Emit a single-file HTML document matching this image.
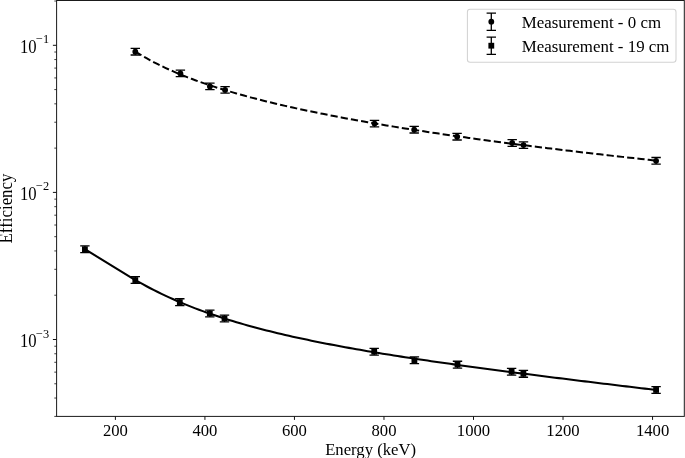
<!DOCTYPE html>
<html><head><meta charset="utf-8"><title>Efficiency</title>
<style>
html,body{margin:0;padding:0;background:#fff;}
svg{display:block;will-change:transform;}
text{font-family:"Liberation Serif",serif;font-size:16.67px;fill:#000;}
</style></head><body>
<svg width="685" height="458" viewBox="0 0 685 458">
<rect width="685" height="458" fill="#fff"/>

<rect x="56.6" y="0.5" width="627.70" height="415.90" fill="none" stroke="#1a1a1a" stroke-width="1.0"/>
<text transform="translate(115.40,435.50) scale(1.0,1.04)" text-anchor="middle">200</text>
<text transform="translate(204.93,435.50) scale(1.0,1.04)" text-anchor="middle">400</text>
<text transform="translate(294.45,435.50) scale(1.0,1.04)" text-anchor="middle">600</text>
<text transform="translate(383.98,435.50) scale(1.0,1.04)" text-anchor="middle">800</text>
<text transform="translate(473.50,435.50) scale(1.0,1.04)" text-anchor="middle">1000</text>
<text transform="translate(563.03,435.50) scale(1.0,1.04)" text-anchor="middle">1200</text>
<text transform="translate(652.56,435.50) scale(1.0,1.04)" text-anchor="middle">1400</text>
<text transform="translate(20.00,53.10) scale(1.0,1.08)" text-anchor="start">10</text>
<text transform="translate(36.00,43.30) scale(1.06,1.06)" text-anchor="start" style="font-size:11.67px">−1</text>
<text transform="translate(20.00,200.20) scale(1.0,1.08)" text-anchor="start">10</text>
<text transform="translate(36.00,190.40) scale(1.06,1.06)" text-anchor="start" style="font-size:11.67px">−2</text>
<text transform="translate(20.00,347.30) scale(1.0,1.08)" text-anchor="start">10</text>
<text transform="translate(36.00,337.50) scale(1.06,1.06)" text-anchor="start" style="font-size:11.67px">−3</text>
<path d="M115.40,416.4 v3.5 M204.93,416.4 v3.5 M294.45,416.4 v3.5 M383.98,416.4 v3.5 M473.50,416.4 v3.5 M563.03,416.4 v3.5 M652.56,416.4 v3.5 M56.6,45.30 h-3.7 M56.6,192.40 h-3.7 M56.6,339.50 h-3.7" stroke="#111" stroke-width="1.0" fill="none"/>
<path d="M56.6,1.02 h-2.3 M56.6,148.12 h-2.3 M56.6,122.22 h-2.3 M56.6,103.84 h-2.3 M56.6,89.58 h-2.3 M56.6,77.93 h-2.3 M56.6,68.09 h-2.3 M56.6,59.56 h-2.3 M56.6,52.03 h-2.3 M56.6,295.22 h-2.3 M56.6,269.32 h-2.3 M56.6,250.94 h-2.3 M56.6,236.68 h-2.3 M56.6,225.03 h-2.3 M56.6,215.19 h-2.3 M56.6,206.66 h-2.3 M56.6,199.13 h-2.3 M56.6,416.42 h-2.3 M56.6,398.04 h-2.3 M56.6,383.78 h-2.3 M56.6,372.13 h-2.3 M56.6,362.29 h-2.3 M56.6,353.76 h-2.3 M56.6,346.23 h-2.3" stroke="#111" stroke-width="0.8" fill="none"/>
<text transform="translate(370.60,454.60) scale(1.0,1.04)" text-anchor="middle">Energy (keV)</text>
<text transform="translate(12.00,208.50) rotate(-90) scale(1.012,1.1)" text-anchor="middle">Efficiency</text>
<path d="M135.30,51.48 L139.05,53.82 L142.79,56.07 L146.54,58.22 L150.29,60.29 L154.03,62.27 L157.78,64.19 L161.53,66.03 L165.27,67.81 L169.02,69.53 L172.77,71.20 L176.51,72.81 L180.26,74.38 L184.01,75.89 L187.75,77.37 L191.50,78.80 L195.25,80.20 L198.99,81.55 L202.74,82.88 L206.49,84.17 L210.24,85.43 L213.98,86.66 L217.73,87.86 L221.48,89.03 L225.22,90.18 L228.97,91.31 L232.72,92.41 L236.46,93.49 L240.21,94.55 L243.96,95.58 L247.70,96.60 L251.45,97.60 L255.20,98.58 L258.94,99.55 L262.69,100.50 L266.44,101.43 L270.18,102.34 L273.93,103.25 L277.68,104.13 L281.42,105.01 L285.17,105.87 L288.92,106.72 L292.66,107.55 L296.41,108.38 L300.16,109.19 L303.90,109.99 L307.65,110.78 L311.40,111.56 L315.14,112.33 L318.89,113.09 L322.64,113.84 L326.38,114.58 L330.13,115.32 L333.88,116.04 L337.63,116.76 L341.37,117.46 L345.12,118.16 L348.87,118.85 L352.61,119.54 L356.36,120.22 L360.11,120.88 L363.85,121.55 L367.60,122.20 L371.35,122.85 L375.09,123.50 L378.84,124.13 L382.59,124.77 L386.33,125.39 L390.08,126.01 L393.83,126.62 L397.57,127.23 L401.32,127.83 L405.07,128.43 L408.81,129.02 L412.56,129.61 L416.31,130.19 L420.05,130.77 L423.80,131.34 L427.55,131.91 L431.29,132.48 L435.04,133.04 L438.79,133.59 L442.53,134.14 L446.28,134.69 L450.03,135.23 L453.77,135.77 L457.52,136.30 L461.27,136.84 L465.02,137.36 L468.76,137.89 L472.51,138.41 L476.26,138.92 L480.00,139.44 L483.75,139.95 L487.50,140.45 L491.24,140.96 L494.99,141.46 L498.74,141.95 L502.48,142.45 L506.23,142.94 L509.98,143.42 L513.72,143.91 L517.47,144.39 L521.22,144.87 L524.96,145.35 L528.71,145.82 L532.46,146.29 L536.20,146.76 L539.95,147.22 L543.70,147.69 L547.44,148.15 L551.19,148.60 L554.94,149.06 L558.68,149.51 L562.43,149.96 L566.18,150.41 L569.92,150.86 L573.67,151.30 L577.42,151.74 L581.16,152.18 L584.91,152.62 L588.66,153.05 L592.41,153.49 L596.15,153.92 L599.90,154.35 L603.65,154.77 L607.39,155.20 L611.14,155.62 L614.89,156.04 L618.63,156.46 L622.38,156.88 L626.13,157.29 L629.87,157.70 L633.62,158.11 L637.37,158.52 L641.11,158.93 L644.86,159.34 L648.61,159.74 L652.35,160.15 L656.10,160.55" fill="none" stroke="#000" stroke-width="2.0" stroke-dasharray="7.2 3.13" stroke-dashoffset="0"/>
<path d="M84.90,249.20 L135.30,280.02 L139.05,282.14 L142.79,284.22 L146.54,286.24 L150.29,288.22 L154.03,290.14 L157.78,292.02 L161.53,293.85 L165.27,295.63 L169.02,297.36 L172.77,299.05 L176.51,300.70 L180.26,302.31 L184.01,303.87 L187.75,305.40 L191.50,306.89 L195.25,308.34 L198.99,309.75 L202.74,311.14 L206.49,312.48 L210.24,313.80 L213.98,315.09 L217.73,316.34 L221.48,317.57 L225.22,318.77 L228.97,319.94 L232.72,321.09 L236.46,322.21 L240.21,323.31 L243.96,324.39 L247.70,325.44 L251.45,326.47 L255.20,327.49 L258.94,328.48 L262.69,329.45 L266.44,330.41 L270.18,331.34 L273.93,332.26 L277.68,333.17 L281.42,334.06 L285.17,334.93 L288.92,335.79 L292.66,336.63 L296.41,337.46 L300.16,338.28 L303.90,339.08 L307.65,339.87 L311.40,340.65 L315.14,341.42 L318.89,342.17 L322.64,342.92 L326.38,343.65 L330.13,344.38 L333.88,345.09 L337.63,345.80 L341.37,346.50 L345.12,347.19 L348.87,347.87 L352.61,348.54 L356.36,349.20 L360.11,349.86 L363.85,350.50 L367.60,351.15 L371.35,351.78 L375.09,352.41 L378.84,353.03 L382.59,353.64 L386.33,354.25 L390.08,354.85 L393.83,355.45 L397.57,356.04 L401.32,356.63 L405.07,357.21 L408.81,357.79 L412.56,358.36 L416.31,358.92 L420.05,359.49 L423.80,360.04 L427.55,360.60 L431.29,361.15 L435.04,361.69 L438.79,362.23 L442.53,362.77 L446.28,363.30 L450.03,363.84 L453.77,364.36 L457.52,364.89 L461.27,365.41 L465.02,365.93 L468.76,366.44 L472.51,366.95 L476.26,367.46 L480.00,367.97 L483.75,368.47 L487.50,368.97 L491.24,369.47 L494.99,369.97 L498.74,370.47 L502.48,370.96 L506.23,371.45 L509.98,371.94 L513.72,372.42 L517.47,372.91 L521.22,373.39 L524.96,373.87 L528.71,374.35 L532.46,374.83 L536.20,375.30 L539.95,375.78 L543.70,376.25 L547.44,376.72 L551.19,377.19 L554.94,377.66 L558.68,378.13 L562.43,378.59 L566.18,379.06 L569.92,379.52 L573.67,379.98 L577.42,380.44 L581.16,380.90 L584.91,381.36 L588.66,381.82 L592.41,382.28 L596.15,382.74 L599.90,383.19 L603.65,383.65 L607.39,384.10 L611.14,384.55 L614.89,385.01 L618.63,385.46 L622.38,385.91 L626.13,386.36 L629.87,386.81 L633.62,387.26 L637.37,387.71 L641.11,388.16 L644.86,388.61 L648.61,389.05 L652.35,389.50 L656.10,389.95" fill="none" stroke="#000" stroke-width="2.05" stroke-linejoin="round"/>
<path d="M135.30,48.40 V55.00 M130.60,48.40 h9.4 M130.60,55.00 h9.4" stroke="#000" stroke-width="1.3" fill="none"/><circle cx="135.30" cy="51.70" r="2.9" fill="#000"/>
<path d="M180.40,70.10 V76.70 M175.70,70.10 h9.4 M175.70,76.70 h9.4" stroke="#000" stroke-width="1.3" fill="none"/><circle cx="180.40" cy="73.40" r="2.9" fill="#000"/>
<path d="M209.90,83.10 V89.70 M205.20,83.10 h9.4 M205.20,89.70 h9.4" stroke="#000" stroke-width="1.3" fill="none"/><circle cx="209.90" cy="86.40" r="2.9" fill="#000"/>
<path d="M225.10,86.60 V93.20 M220.40,86.60 h9.4 M220.40,93.20 h9.4" stroke="#000" stroke-width="1.3" fill="none"/><circle cx="225.10" cy="89.90" r="2.9" fill="#000"/>
<path d="M374.50,120.30 V126.90 M369.80,120.30 h9.4 M369.80,126.90 h9.4" stroke="#000" stroke-width="1.3" fill="none"/><circle cx="374.50" cy="123.60" r="2.9" fill="#000"/>
<path d="M414.20,126.40 V133.00 M409.50,126.40 h9.4 M409.50,133.00 h9.4" stroke="#000" stroke-width="1.3" fill="none"/><circle cx="414.20" cy="129.70" r="2.9" fill="#000"/>
<path d="M457.10,133.40 V140.00 M452.40,133.40 h9.4 M452.40,140.00 h9.4" stroke="#000" stroke-width="1.3" fill="none"/><circle cx="457.10" cy="136.70" r="2.9" fill="#000"/>
<path d="M512.20,139.70 V146.30 M507.50,139.70 h9.4 M507.50,146.30 h9.4" stroke="#000" stroke-width="1.3" fill="none"/><circle cx="512.20" cy="143.00" r="2.9" fill="#000"/>
<path d="M523.50,141.80 V148.40 M518.80,141.80 h9.4 M518.80,148.40 h9.4" stroke="#000" stroke-width="1.3" fill="none"/><circle cx="523.50" cy="145.10" r="2.9" fill="#000"/>
<path d="M656.10,157.50 V164.10 M651.40,157.50 h9.4 M651.40,164.10 h9.4" stroke="#000" stroke-width="1.3" fill="none"/><circle cx="656.10" cy="160.80" r="2.9" fill="#000"/>
<path d="M84.90,245.80 V252.60 M80.20,245.80 h9.4 M80.20,252.60 h9.4" stroke="#000" stroke-width="1.3" fill="none"/><rect x="82.00" y="246.30" width="5.8" height="5.8" fill="#000"/>
<path d="M135.30,276.65 V283.45 M130.60,276.65 h9.4 M130.60,283.45 h9.4" stroke="#000" stroke-width="1.3" fill="none"/><rect x="132.40" y="277.15" width="5.8" height="5.8" fill="#000"/>
<path d="M179.80,298.75 V305.55 M175.10,298.75 h9.4 M175.10,305.55 h9.4" stroke="#000" stroke-width="1.3" fill="none"/><rect x="176.90" y="299.25" width="5.8" height="5.8" fill="#000"/>
<path d="M209.80,310.05 V316.85 M205.10,310.05 h9.4 M205.10,316.85 h9.4" stroke="#000" stroke-width="1.3" fill="none"/><rect x="206.90" y="310.55" width="5.8" height="5.8" fill="#000"/>
<path d="M224.50,315.05 V321.85 M219.80,315.05 h9.4 M219.80,321.85 h9.4" stroke="#000" stroke-width="1.3" fill="none"/><rect x="221.60" y="315.55" width="5.8" height="5.8" fill="#000"/>
<path d="M374.20,348.35 V355.15 M369.50,348.35 h9.4 M369.50,355.15 h9.4" stroke="#000" stroke-width="1.3" fill="none"/><rect x="371.30" y="348.85" width="5.8" height="5.8" fill="#000"/>
<path d="M414.40,356.85 V363.65 M409.70,356.85 h9.4 M409.70,363.65 h9.4" stroke="#000" stroke-width="1.3" fill="none"/><rect x="411.50" y="357.35" width="5.8" height="5.8" fill="#000"/>
<path d="M457.50,361.25 V368.05 M452.80,361.25 h9.4 M452.80,368.05 h9.4" stroke="#000" stroke-width="1.3" fill="none"/><rect x="454.60" y="361.75" width="5.8" height="5.8" fill="#000"/>
<path d="M511.60,368.35 V375.15 M506.90,368.35 h9.4 M506.90,375.15 h9.4" stroke="#000" stroke-width="1.3" fill="none"/><rect x="508.70" y="368.85" width="5.8" height="5.8" fill="#000"/>
<path d="M523.40,370.45 V377.25 M518.70,370.45 h9.4 M518.70,377.25 h9.4" stroke="#000" stroke-width="1.3" fill="none"/><rect x="520.50" y="370.95" width="5.8" height="5.8" fill="#000"/>
<path d="M656.10,386.55 V393.35 M651.40,386.55 h9.4 M651.40,393.35 h9.4" stroke="#000" stroke-width="1.3" fill="none"/><rect x="653.20" y="387.05" width="5.8" height="5.8" fill="#000"/>
<rect x="467.4" y="9.3" width="208.6" height="52.9" rx="2.8" fill="#fff" fill-opacity="0.8" stroke="#d2d2d2" stroke-width="1.05"/>
<path d="M491.30,13.10 V30.30 M486.60,13.10 h9.4 M486.60,30.30 h9.4" stroke="#000" stroke-width="1.3" fill="none"/><circle cx="491.30" cy="21.70" r="2.9" fill="#000"/>
<path d="M491.30,37.10 V54.30 M486.60,37.10 h9.4 M486.60,54.30 h9.4" stroke="#000" stroke-width="1.3" fill="none"/><rect x="488.40" y="42.80" width="5.8" height="5.8" fill="#000"/>
<text transform="translate(521.70,28.35) scale(1.014,1.01)" text-anchor="start">Measurement - 0 cm</text>
<text transform="translate(521.70,52.05) scale(1.014,1.01)" text-anchor="start">Measurement - 19 cm</text>
</svg></body></html>
